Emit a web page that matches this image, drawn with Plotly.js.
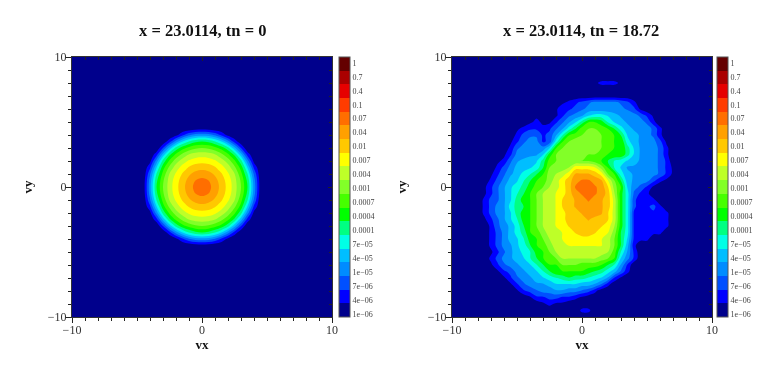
<!DOCTYPE html>
<html>
<head>
<meta charset="utf-8">
<script src="https://cdn.plot.ly/plotly-3.0.1.min.js"></script>
<style>
  html, body { margin: 0; padding: 0; background: #fff; }
  #chart { width: 763px; height: 365px; filter: blur(0.55px); }
</style>
</head>
<body>
<div id="chart"></div>
<script>
// Colorbar labels, bottom to top, one per colour band
const levelLabels = ['1e−06', '4e−06', '7e−06', '1e−05', '4e−05', '7e−05', '0.0001', '0.0004', '0.0007',
  '0.001', '0.004', '0.007', '0.01', '0.04', '0.07', '0.1', '0.4', '0.7', '1'];
const levelTicks = [0.24, 1.26, 2.27, 3.29, 4.31, 5.33, 6.35, 7.37, 8.39, 9.4,
  10.42, 11.44, 12.46, 13.48, 14.5, 15.51, 16.53, 17.55, 18.57];
const bandColors = ['#00008c', '#0000ff', '#0050ff', '#008cff', '#00beff', '#00ffe6', '#00ff82',
  '#00ff00', '#46ff00', '#82ff28', '#beff28', '#ffff00', '#ffc800', '#ffa000', '#ff6e00',
  '#ff3c00', '#e60000', '#aa0000', '#640000'];

// tn = 0: band value at each node, vy from 4.5 down to -4.5, vx from -4.5 to 4.5
const rowsStart = [
  [0, 0, 0, 0, 0, 0.1, 0.1, 0.2, 0.4, 0.45, 0.4, 0.2, 0.1, 0.1, 0, 0, 0, 0, 0],
  [0, 0, 0, 0, 0.1, 0.65, 1.8, 2.85, 3.45, 3.65, 3.45, 2.85, 1.8, 0.65, 0.1, 0, 0, 0, 0],
  [0, 0, 0, 0.2, 1.6, 3.45, 4.95, 6.05, 6.75, 7, 6.75, 6.05, 4.95, 3.45, 1.6, 0.2, 0, 0, 0],
  [0, 0, 0.1, 2.05, 4.35, 6.35, 7.6, 8.35, 8.85, 9, 8.85, 8.35, 7.6, 6.35, 4.35, 2.05, 0.1, 0, 0],
  [0, 0.1, 1.6, 4.35, 6.75, 8.2, 9.25, 10.05, 10.4, 10.5, 10.4, 10.05, 9.25, 8.2, 6.75, 4.35, 1.6, 0.1, 0],
  [0.1, 0.65, 3.45, 6.35, 8.2, 9.55, 10.5, 11.15, 11.55, 11.65, 11.55, 11.15, 10.5, 9.55, 8.2, 6.35, 3.45, 0.65, 0.1],
  [0.1, 1.8, 4.95, 7.6, 9.25, 10.5, 11.4, 12.1, 12.5, 12.65, 12.5, 12.1, 11.4, 10.5, 9.25, 7.6, 4.95, 1.8, 0.1],
  [0.2, 2.85, 6.05, 8.35, 10.05, 11.15, 12.1, 12.85, 13.35, 13.55, 13.35, 12.85, 12.1, 11.15, 10.05, 8.35, 6.05, 2.85, 0.2],
  [0.4, 3.45, 6.75, 8.85, 10.4, 11.55, 12.5, 13.35, 14, 14.3, 14, 13.35, 12.5, 11.55, 10.4, 8.85, 6.75, 3.45, 0.4],
  [0.45, 3.65, 7, 9, 10.5, 11.65, 12.65, 13.55, 14.3, 14.9, 14.3, 13.55, 12.65, 11.65, 10.5, 9, 7, 3.65, 0.45],
  [0.4, 3.45, 6.75, 8.85, 10.4, 11.55, 12.5, 13.35, 14, 14.3, 14, 13.35, 12.5, 11.55, 10.4, 8.85, 6.75, 3.45, 0.4],
  [0.2, 2.85, 6.05, 8.35, 10.05, 11.15, 12.1, 12.85, 13.35, 13.55, 13.35, 12.85, 12.1, 11.15, 10.05, 8.35, 6.05, 2.85, 0.2],
  [0.1, 1.8, 4.95, 7.6, 9.25, 10.5, 11.4, 12.1, 12.5, 12.65, 12.5, 12.1, 11.4, 10.5, 9.25, 7.6, 4.95, 1.8, 0.1],
  [0.1, 0.65, 3.45, 6.35, 8.2, 9.55, 10.5, 11.15, 11.55, 11.65, 11.55, 11.15, 10.5, 9.55, 8.2, 6.35, 3.45, 0.65, 0.1],
  [0, 0.1, 1.6, 4.35, 6.75, 8.2, 9.25, 10.05, 10.4, 10.5, 10.4, 10.05, 9.25, 8.2, 6.75, 4.35, 1.6, 0.1, 0],
  [0, 0, 0.1, 2.05, 4.35, 6.35, 7.6, 8.35, 8.85, 9, 8.85, 8.35, 7.6, 6.35, 4.35, 2.05, 0.1, 0, 0],
  [0, 0, 0, 0.2, 1.6, 3.45, 4.95, 6.05, 6.75, 7, 6.75, 6.05, 4.95, 3.45, 1.6, 0.2, 0, 0, 0],
  [0, 0, 0, 0, 0.1, 0.65, 1.8, 2.85, 3.45, 3.65, 3.45, 2.85, 1.8, 0.65, 0.1, 0, 0, 0, 0],
  [0, 0, 0, 0, 0, 0.1, 0.1, 0.2, 0.4, 0.45, 0.4, 0.2, 0.1, 0.1, 0, 0, 0, 0, 0]
];

// tn = 18.72: half-band value, one base-36 character per node.
// Rows run from vy = 10 down to vy = -10, columns from vx = -10 to vx = 10.
const blank = '00000 00000 00000 00000 00000 00000 00000 00000 0';
const rowsLater = [
  blank, blank, blank, blank,
  '00000 00000 00000 00000 00122 21000 00000 00000 0',
  blank, blank,
  '00000 00000 00000 00123 45666 65420 00000 00000 0',
  '00000 00000 00000 01334 56666 66541 00000 00000 0',
  '00000 00000 00011 01356 79aa9 87765 31000 00000 0',
  '00000 00000 00121 13579 cffeb 98766 52000 00000 0',
  '00000 00000 12332 357ad ghhgf da876 65200 00000 0',
  '00000 00000 24553 47bfg hiihg fd987 65200 00000 0',
  '00000 00001 35663 4afhi iiihg ffa87 66410 00000 0',
  '00000 00002 56666 9fhii iiihg ffc97 66520 00000 0',
  '00000 00013 66779 ehiii ihhgf ffc97 66520 00000 0',
  '00000 00125 7889c ghiih hhgfd ba987 66530 00000 0',
  '00000 00246 889ad hiijm mmlif b9777 66531 00000 0',
  '00000 01357 8abdf ijkmp ppomh fa877 66531 00000 0',
  '00000 02468 9bdfg ikmoq rrqpl hd876 64210 00000 0',
  '00000 13579 acegh jkmor ssrqn if965 31000 00000 0',
  '00000 13579 bdfhj klmoq rsrqo jea53 20000 00000 0',
  '00000 24579 cefhj klnop qrqpo kea42 32000 00000 0',
  '00000 2467a cdfhj klnop pqqpo kea42 34200 00000 0',
  '00000 24679 cefhj klmoo pqqpn kea32 23220 00000 0',
  '00000 13579 befhj klmoo opoon kea32 23220 00000 0',
  '00000 02568 adfhj klmno ooonm jea32 22220 00000 0',
  '00000 02468 acfgi kklmn oonml ida32 22200 00000 0',
  '00000 02468 9befh jklmm mmmlk hd932 20000 00000 0',
  '00000 02467 9adfg ikkll llllk hd820 00000 00000 0',
  '00000 01357 8abef hjkkk kkkkj gb730 00000 00000 0',
  '00000 02467 89bdf ghjjj jjjih f9630 00000 00000 0',
  '00000 01356 789bd ffhhh gggfd b7300 00000 00000 0',
  '00000 00134 6789b dffff fedca 85200 00000 00000 0',
  '00000 00013 56789 abcdc cba97 31000 00000 00000 0',
  '00000 00001 35677 89999 88752 00000 00000 00000 0',
  '00000 00000 13456 67766 54200 00000 00000 00000 0',
  '00000 00000 00133 44332 10000 00000 00000 00000 0',
  '00000 00000 00001 21100 00000 00000 00000 00000 0',
  '00000 00000 00000 00000 22000 00000 00000 00000 0',
  blank
];

// Half-band characters to band values, vy ascending
function laterMatrix(rows) {
  return rows.slice().reverse().map(row =>
    row.replace(/ /g, '').split('').map(ch => (parseInt(ch, 36) + 0.5) * 19 / 37));
}

const W = 763, H = 365;
const plotTop = 57, plotBottom = 317;
const serif = 'Liberation Serif, serif';
const bandCount = bandColors.length;

function contourTrace(z, origin, xa, ya) {
  return {
    type: 'contour',
    z: z,
    x0: origin, dx: 0.5, y0: origin, dy: 0.5,
    xaxis: xa, yaxis: ya,
    colorscale: bandColors.map((c, i) => [i / (bandCount - 1), c]),
    autocontour: false,
    contours: { start: 1, end: 18, size: 1, coloring: 'fill', showlines: false },
    line: { width: 0 },
    showscale: false,
    hoverinfo: 'skip'
  };
}

// Off-range heatmap on the edge axes: it only carries the colorbar with equal bands
function barTrace(xa, ya, barLeft) {
  const steps = [];
  bandColors.forEach((c, i) => {
    steps.push([i / bandCount, c], [(i + 1) / bandCount, c]);
  });
  return {
    type: 'heatmap',
    x: [100, 101], y: [100, 101], z: [[0, bandCount], [0, bandCount]],
    xaxis: xa, yaxis: ya,
    zmin: 0, zmax: bandCount,
    colorscale: steps,
    hoverinfo: 'skip',
    colorbar: {
      x: barLeft / W, xanchor: 'left', xpad: 0,
      y: (H - (plotTop + plotBottom) / 2) / H, yanchor: 'middle', ypad: 0,
      thickness: 11, thicknessmode: 'pixels',
      len: (plotBottom - plotTop) / H, lenmode: 'fraction',
      tickmode: 'array', tickvals: levelTicks, ticktext: levelLabels,
      ticks: '', ticklen: 0,
      tickfont: { family: serif, size: 8, color: '#444' },
      outlinecolor: '#555', outlinewidth: 1, borderwidth: 0
    }
  };
}

function mainAxis(domain, title, anchor, standoff, labelShift) {
  return {
    domain: domain, range: [-10, 10], anchor: anchor,
    tickmode: 'array', tickvals: [-10, 0, 10], ticktext: ['−10', '0', '10'],
    ticks: 'outside', ticklen: 5, tickwidth: 1, tickcolor: '#222',
    minor: { dtick: 1, tick0: 0, ticks: 'outside', ticklen: 3, tickwidth: 1, tickcolor: '#222' },
    tickfont: { family: serif, size: 12, color: '#333' },
    ticklabelstandoff: labelShift,
    showline: true, linecolor: '#333', linewidth: 1, mirror: true,
    showgrid: false, zeroline: false,
    title: { text: title, font: { family: serif, size: 13, color: '#111', weight: 'bold' }, standoff: standoff }
  };
}

// Second set of axes, only for the inward ticks on the top and right edges
function edgeAxis(domain, side, over, anchor) {
  return {
    domain: domain, range: [-10, 10], side: side, overlaying: over, anchor: anchor,
    tickmode: 'array', tickvals: [-10, 0, 10], showticklabels: false,
    ticks: 'inside', ticklen: 4, tickwidth: 1, tickcolor: '#222',
    minor: { dtick: 1, tick0: 0, ticks: 'inside', ticklen: 3, tickwidth: 1, tickcolor: '#222' },
    showgrid: false, zeroline: false, showline: false
  };
}

const domY = [(H - plotBottom) / H, (H - plotTop) / H];
const domX1 = [72 / W, 332 / W];
const domX2 = [452 / W, 712 / W];

const data = [
  contourTrace(rowsStart, -4.5, 'x', 'y'),
  contourTrace(laterMatrix(rowsLater), -10, 'x2', 'y2'),
  barTrace('x3', 'y3', 339),
  barTrace('x4', 'y4', 717)
];

function plotTitle(text, cx) {
  return {
    text: text, xref: 'paper', yref: 'paper', showarrow: false,
    x: cx / W, y: (H - 31) / H, xanchor: 'center', yanchor: 'middle',
    font: { family: serif, size: 16.5, color: '#111', weight: 'bold' }
  };
}

const layout = {
  width: W, height: H,
  margin: { l: 0, r: 0, t: 0, b: 0, autoexpand: false },
  paper_bgcolor: '#fff', plot_bgcolor: bandColors[0],
  showlegend: false,
  xaxis: mainAxis(domX1, 'vx', 'y', 0, -3),
  yaxis: mainAxis(domY, 'vy', 'x', 12, -3),
  xaxis2: mainAxis(domX2, 'vx', 'y2', 0, -3),
  yaxis2: mainAxis(domY, 'vy', 'x2', 18, -3),
  xaxis3: edgeAxis(domX1, 'top', 'x', 'y3'),
  yaxis3: edgeAxis(domY, 'right', 'y', 'x3'),
  xaxis4: edgeAxis(domX2, 'top', 'x2', 'y4'),
  yaxis4: edgeAxis(domY, 'right', 'y2', 'x4'),
  annotations: [
    plotTitle('x = 23.0114, tn = 0', 202),
    plotTitle('x = 23.0114, tn = 18.72', 581)
  ]
};

Plotly.newPlot('chart', data, layout, { displayModeBar: false, staticPlot: true });
</script>
</body>
</html>
